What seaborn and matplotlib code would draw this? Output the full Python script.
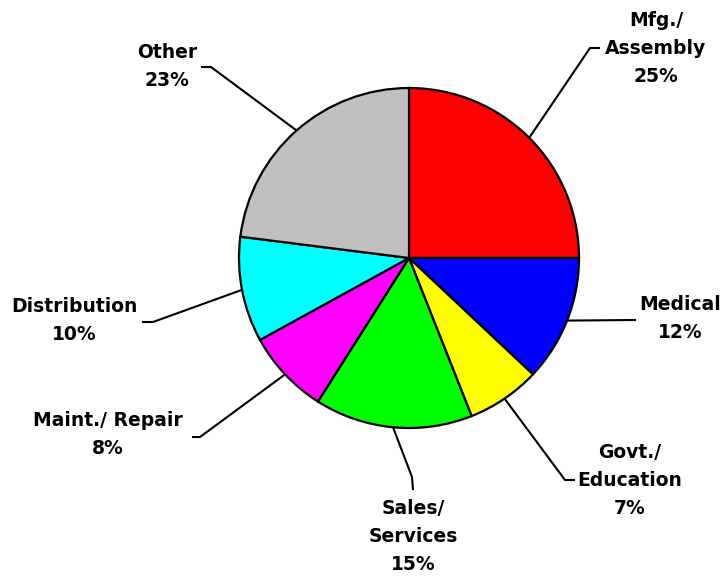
import numpy as np
import matplotlib
matplotlib.use('Agg')
import matplotlib.pyplot as plt
import seaborn as sns

sns.set_theme(style="white")
plt.rcParams['font.family'] = ['DejaVu Sans']

# ── data ──────────────────────────────────────────────
categories = ["Mfg./\nAssembly", "Medical", "Govt./\nEducation", "Sales/\nServices",
              "Maint./ Repair", "Distribution", "Other"]
shares = [25, 12, 7, 15, 8, 10, 23]
colors = ["#FF0000", "#0000FF", "#FFFF00", "#00FF00", "#FF00FF", "#00FFFF", "#C0C0C0"]

# label text centre (pixels, top-left origin) and leader elbow / end points
label_pos = [(656, 48), (680, 319), (630, 480), (413, 537), (108, 435), (74, 321), (167, 66)]
leader_elbow = [(590, 48), (636, 320), (565, 480), (412, 477), (200, 437), (153, 322), (211, 67)]
leader_end = [(600, 48), (636, 320), (575, 480), (413, 490), (192, 437), (142, 322), (201, 67)]

W, H = 723, 581
cx, cy, R = 409, H - 258, 170

fig = plt.figure(figsize=(W / 100, H / 100), dpi=100)
ax = fig.add_axes([0, 0, 1, 1])

wedges, _ = ax.pie(shares, colors=colors, startangle=90, counterclock=False,
                   center=(cx, cy), radius=R,
                   wedgeprops=dict(edgecolor='black', linewidth=1.6))
ax.set_xlim(0, W)
ax.set_ylim(0, H)
ax.set_aspect('equal')
ax.axis('off')

line_h = 28
for w, name, val, (tx, ty), (ex, ey), (fx, fy) in zip(
        wedges, categories, shares, label_pos, leader_elbow, leader_end):
    mid = np.deg2rad((w.theta1 + w.theta2) / 2)
    sx, sy = cx + R * np.cos(mid), cy + R * np.sin(mid)
    ax.plot([sx, ex, fx], [sy, H - ey, H - fy], color='black', lw=1.5,
            solid_capstyle='butt', zorder=3)
    lines = name.split("\n") + [f"{val}%"]
    n = len(lines)
    for i, t in enumerate(lines):
        y = ty + (i - (n - 1) / 2) * line_h
        ax.text(tx, H - y, t, ha='center', va='center', fontsize=13.5,
                fontweight='bold', color='black')

fig.savefig('out.png', dpi=100)
